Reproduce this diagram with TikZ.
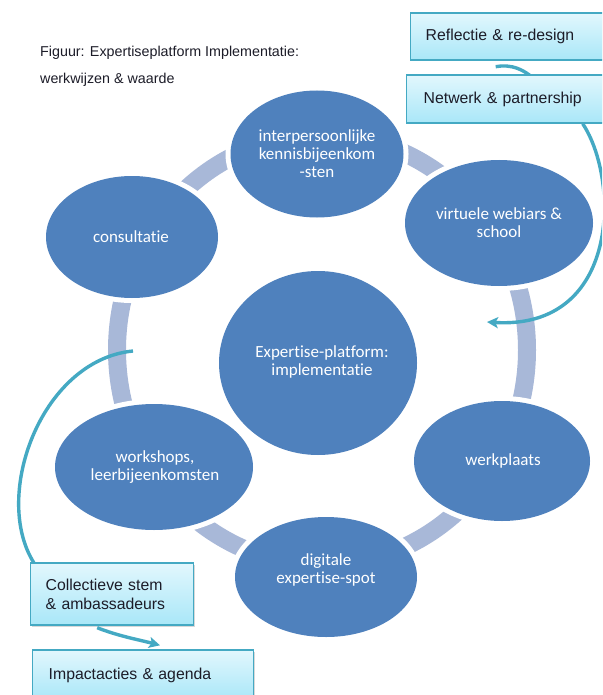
\documentclass[tikz,border=0pt]{standalone}
\usepackage{fontspec}
\setmainfont{Liberation Sans}
\newfontfamily\carlito[Ligatures={NoCommon}]{Carlito}
\usetikzlibrary{shapes.geometric,arrows.meta,shadows,calc}
\definecolor{ellblue}{HTML}{4F81BD}
\definecolor{ringc}{RGB}{168,184,216}
\definecolor{tealc}{HTML}{44A9C3}
\definecolor{boxtop}{HTML}{E2F7FD}
\definecolor{boxbot}{HTML}{A9E7F8}
\definecolor{txtc}{HTML}{1C1C28}
\begin{document}
\begin{tikzpicture}[x=1pt,y=-1pt,
  blob/.style={ellipse, fill=ellblue, inner sep=0pt, preaction={draw=white, line width=10pt}},
  blobtext/.style={text=white, font=\carlito\fontsize{17}{18}\selectfont, align=center, inner sep=0pt},
  infobox/.style={rectangle, draw=tealc, line width=1.4pt, top color=boxtop, bottom color=boxbot,
    align=left, font=\fontsize{15.8}{19}\selectfont, text=txtc, anchor=west, inner ysep=0pt,
    drop shadow={shadow xshift=1.5pt, shadow yshift=-1.5pt, opacity=0.3}},
  link/.style={draw=tealc, line width=3.4pt},
  tip/.style={-{Stealth[length=11pt,width=11pt,inset=2.5pt]}},
  titletext/.style={font=\fontsize{14.3}{17}\selectfont, text=txtc, anchor=base west, inner sep=0pt},
]
\useasboundingbox (0,0) rectangle (602,695);
\clip (0,0) rectangle (602,695);
\fill[white] (0,0) rectangle (602,695);

% title
\node[titletext] (title1) at (40,57) {Figuur: Expertiseplatform Implementatie:};
\node[titletext] (title2) at (40,84) {werkwijzen \& waarde};

% ring
\draw[ringc, line width=18pt] (322,350) ellipse [x radius=205, y radius=215];

% ellipses
\node[blob, minimum width=173pt, minimum height=127pt] (inter) at (317,154) {};
\node[blob, minimum width=188pt, minimum height=126pt] (virt) at (499,223) {};
\node[blob, minimum width=172pt, minimum height=122pt] (cons) at (132,237) {};
\node[blob, minimum width=198pt, minimum height=184pt] (centr) at (318,363) {};
\node[blob, minimum width=176pt, minimum height=120pt] (werk) at (502,461) {};
\node[blob, minimum width=198pt, minimum height=126pt] (works) at (154,467) {};
\node[blob, minimum width=182pt, minimum height=120pt] (digi) at (326,577) {};

\node[blobtext] (intert) at (317,154) {interpersoonlijke\\kennisbijeenkom\\-sten};
\node[blobtext] (virtt) at (499,223) {virtuele webiars \&\\school};
\node[blobtext] (const) at (131,237) {consultatie};
\node[blobtext] (centrt) at (322,362) {Expertise-platform:\\implementatie};
\node[blobtext] (werkt) at (503,461) {werkplaats};
\node[blobtext] (workst) at (155,467) {workshops,\\leerbijeenkomsten};
\node[blobtext] (digit) at (326,570) {digitale\\expertise-spot};

% box positions
\path (410,36.5) coordinate (reflpos);
\path (406,99) coordinate (netwpos);
\path (30,594) coordinate (collpos);
\path (32,675) coordinate (imppos);

% boxes and connectors (connector ends tuck under the boxes)
\node[infobox, minimum width=230pt, minimum height=47pt, text width=200pt, inner xsep=15pt] (refl) at (reflpos) {Reflectie \& re-design};
\coordinate (ra) at ($(refl.south)+(-30,6)$);
\coordinate (tipA) at (487,322);
\coordinate (arcS) at (133,351);
\draw[link] (ra) .. controls (510,64) and (525,68) .. (540,85);
\node[infobox, minimum width=234pt, minimum height=48pt, text width=200pt, inner xsep=17pt] (netw) at (netwpos) {Netwerk \& partnership};
\draw[link, tip] ($(netw.south)+(59,0)$) .. controls (620,180) and (620,330) .. (tipA);
\draw[link] (arcS) .. controls (40,360) and (-10,500) .. (36,566);
\node[infobox, minimum width=163pt, minimum height=62pt, text width=133pt, inner xsep=15pt] (coll) at (collpos) {Collectieve stem\\\& ambassadeurs};
\node[infobox, minimum width=205pt, minimum height=50pt, text width=189pt, inner xsep=16pt] (imp) at (imppos) {Impactacties \& agenda};
\draw[link, tip] ($(coll.south)+(-15,2)$) .. controls (118,636) and (140,640) .. ($(imp.north west)+(128,-4)$);
\end{tikzpicture}
\end{document}
